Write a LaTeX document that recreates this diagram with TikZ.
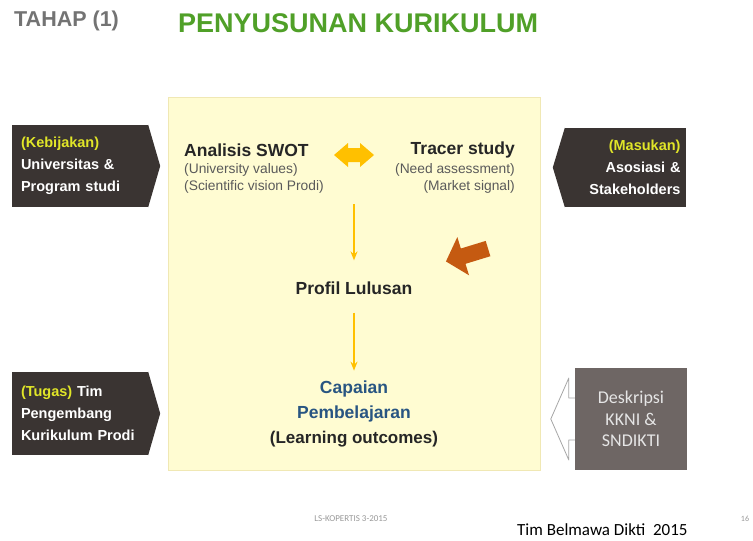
\documentclass[tikz,border=0pt]{standalone}
\usepackage{fontspec}
\setmainfont{Liberation Sans}
\newfontfamily\calibrifont{Carlito}
\usetikzlibrary{positioning, calc, arrows.meta}

\definecolor{boxdark}{RGB}{58,52,50}
\definecolor{boxgrey}{RGB}{110,102,100}
\definecolor{paleyellow}{RGB}{255,252,210}
\definecolor{paleedge}{RGB}{240,232,180}
\definecolor{titlegreen}{RGB}{80,160,40}
\definecolor{titlegrey}{RGB}{115,115,115}
\definecolor{tagyellow}{RGB}{225,230,40}
\definecolor{arrowyellow}{RGB}{255,192,0}
\definecolor{rustorange}{RGB}{197,90,17}
\definecolor{outcomeblue}{RGB}{40,85,130}
\definecolor{subgrey}{RGB}{90,90,90}

\begin{document}
\begin{tikzpicture}[x=1pt, y=-1pt,
    tagbox/.style={fill=boxdark, text=white, font=\bfseries\fontsize{14.5}{22}\selectfont, minimum height=82, inner sep=0pt},
    heading/.style={font=\bfseries\fontsize{17.5}{20}\selectfont, text=black!85, inner sep=0pt},
    subtext/.style={font=\fontsize{13.8}{17}\selectfont, text=subgrey, inner sep=0pt},
    flowarrow/.style={draw=arrowyellow, line width=1.8pt, -{Stealth[length=9pt, width=7pt]}},
    hollowarrow/.style={draw=black!35, fill=white, line width=0.8pt, line join=round}
  ]

  % Rahmen
  \fill[white] (0,0) rectangle (753,541);
  \useasboundingbox (0,0) rectangle (753,541);

  % Judul
  \node[anchor=west, inner sep=0pt, font=\bfseries\fontsize{21.5}{24}\selectfont, text=titlegrey] (tahap) at (14,21) {TAHAP (1)};
  \node[anchor=west, inner sep=0pt, font=\bfseries\fontsize{27}{30}\selectfont, text=titlegreen] (judul) at (178,23) {PENYUSUNAN KURIKULUM};

  % Kotak utama
  \node[draw=paleedge, fill=paleyellow, minimum width=372, minimum height=373] (panel) at (354,283.5) {};

  % Kotak kiri dan kanan
  \node[tagbox, minimum width=136, text width=118, align=left] (kebijakan) at (80,166)
    {\textcolor{tagyellow}{(Kebijakan)}\\ Universitas \&\\ Program studi};
  \fill[boxdark] (kebijakan.north east) -- ($(kebijakan.east)+(12,0)$) -- (kebijakan.south east) -- cycle;

  \node[tagbox, minimum width=121, minimum height=79, text width=110, align=right] (masukan) at (625.5,167.5)
    {\textcolor{tagyellow}{(Masukan)}\\ Asosiasi \&\\ Stakeholders};
  \fill[boxdark] (masukan.north west) -- ($(masukan.west)+(-12,0)$) -- (masukan.south west) -- cycle;

  \node[tagbox, minimum width=136, minimum height=83, text width=118, align=left] (tugas) at (80,413.5)
    {\textcolor{tagyellow}{(Tugas)} Tim\\ Pengembang\\ Kurikulum Prodi};
  \fill[boxdark] (tugas.north east) -- ($(tugas.east)+(12,0)$) -- (tugas.south east) -- cycle;

  \node[fill=boxgrey, text=white!90!black, minimum width=112, minimum height=102, align=center,
        font=\calibrifont\fontsize{18}{21.5}\selectfont] (kkni) at (631,419)
    {Deskripsi\\ KKNI \&\\ SNDIKTI};
  \draw[hollowarrow] ($(kkni.west)+(0,-21)$) -- ++(-6,0) -- ++(0,-20) -- ($(kkni.west)+(-24,0)$)
    -- ($(kkni.west)+(-6,41)$) -- ++(0,-20) -- ++(6,0);

  % Isi kotak utama
  \node[heading, anchor=west] (swot) at (184,150) {Analisis SWOT};
  \node[subtext, anchor=west, align=left] (swotinfo) at (184,178)
    {(University values)\\ (Scientific vision Prodi)};
  \node[heading, anchor=east] (tracer) at (515,150) {Tracer study};
  \node[subtext, anchor=east, align=right] (tracerinfo) at (515,178)
    {(Need assessment)\\ (Market signal)};

  \coordinate (swap) at (354,155);
  \fill[arrowyellow, shift={(swap)}] (-20,0) -- (-6,-12) -- (-6,-7) -- (6,-7) -- (6,-12) -- (20,0)
    -- (6,12) -- (6,7) -- (-6,7) -- (-6,12) -- cycle;

  \coordinate (split) at (354,204);
  \node[heading, inner sep=8pt] (profil) at (354,288) {Profil Lulusan};
  \node[heading, inner sep=4pt, align=center, font=\bfseries\fontsize{17.5}{25}\selectfont] (capaian) at (354,414)
    {\textcolor{outcomeblue}{Capaian}\\ \textcolor{outcomeblue}{Pembelajaran}\\ {\fontsize{17}{25}\selectfont (Learning outcomes)}};

  \draw[flowarrow, shorten >=13pt] (split) -- (profil.north);
  \draw[flowarrow, shorten <=10pt, shorten >=6pt] (profil.south) -- (capaian.north);

  \coordinate (tekan) at (467,255);
  \fill[rustorange, shift={(tekan)}, rotate=197] (-22,-8) -- (4,-8) -- (4,-20) -- (22,0) -- (4,20) -- (4,8) -- (-22,8) -- cycle;

  % Kaki halaman
  \node[font=\calibrifont\fontsize{9}{10}\selectfont, text=black!40] (kode) at (351,519) {LS-KOPERTIS 3-2015};
  \node[anchor=west, inner sep=0pt, font=\calibrifont\fontsize{17}{20}\selectfont] (tim) at (517,530) {Tim Belmawa Dikti\ \ 2015};
  \node[font=\calibrifont\fontsize{8}{9}\selectfont, text=black!40] (halaman) at (745,519) {16};

\end{tikzpicture}
\end{document}
